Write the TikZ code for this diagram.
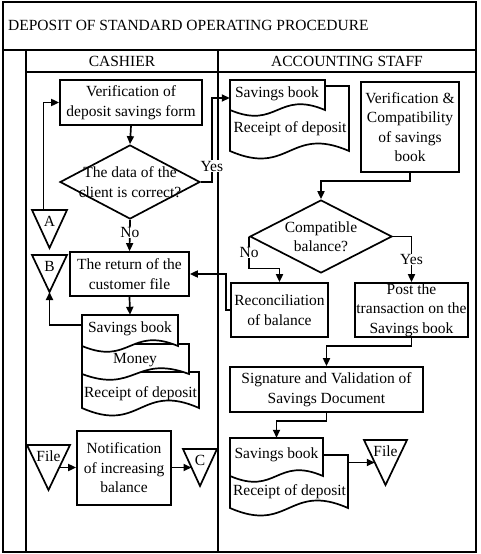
\documentclass[tikz,border=0pt]{standalone}
\usepackage{fontspec}
\setmainfont{Liberation Serif}
\usetikzlibrary{arrows.meta, shapes.geometric, positioning}

\newcommand{\fsz}{\fontsize{15.5}{19.5}\selectfont}
\newcommand{\docshape}[6]{%
  \draw[ln, fill=white] (#2,#3) -- (#4,#3) -- (#4,#5) .. controls ({(#2+#4)/2},{#5-#6}) and ({(#2+#4)/2},{#5+#6}) .. (#2,#5) -- cycle;
  \node[inner sep=0pt, minimum width={#4-#2}, minimum height={#5-#3}] (#1) at ({(#2+#4)/2},{(#3+#5)/2}) {};}
\newcommand{\flowtri}[6]{%
  \draw[ln, fill=white] (#2,#4) -- (#3,#4) -- ({(#2+#3)/2},#5) -- cycle;
  \coordinate (#1-top) at ({(#2+#3)/2},#4);
  \coordinate (#1-tip) at ({(#2+#3)/2},#5);
  \coordinate (#1-l) at ({(3*#2+#3)/4},{(#4+#5)/2});
  \coordinate (#1-r) at ({(#2+3*#3)/4},{(#4+#5)/2});
  \node[txt] (#1) at ({(#2+#3)/2},{#4+11}) {#6};}

\begin{document}
\begin{tikzpicture}[x=1pt, y=-1pt,
  ln/.style={line width=1.7pt},
  box/.style={ln, draw, fill=white, align=center, inner sep=0pt, font=\fsz},
  decision/.style={ln, draw, diamond, fill=white, inner sep=0pt},
  txt/.style={align=center, inner sep=0pt, font=\fsz},
  lbl/.style={fill=white, inner sep=0.5pt, font=\fsz},
  arr/.style={ln, -{Triangle[length=8pt,width=7pt]}}]
\useasboundingbox (0,0) rectangle (480,554);
\draw[ln] (3,2) rectangle (476,552);
\draw[ln] (3,50) -- (476,50);
\draw[ln] (26,50) -- (26,552);
\draw[ln] (218,50) -- (218,552);
\draw[ln] (26,72) -- (476,72);
\node[txt, anchor=base west] (title) at (8,30) {DEPOSIT OF STANDARD OPERATING PROCEDURE};
\node[txt] (cashier) at (122,61.5) {CASHIER};
\node[txt] (staff) at (347,61.5) {ACCOUNTING STAFF};

\node[box, minimum width=142, minimum height=45] (ver1) at (131,102.5) {Verification of\\deposit savings form};
\node[decision, minimum width=140, minimum height=74] (dec1) at (130,182) {};
\node[txt] (dec1-t) at (dec1) {The data of the\\client is correct?};
\node[box, minimum width=119, minimum height=44] (ret) at (129.5,274) {The return of the\\customer file};
\docshape{rcC}{82}{372}{199}{408}{26}
\docshape{mnC}{82}{344}{189}{374}{20}
\docshape{sbC}{82}{315}{178}{346}{20}
\node[txt] (sbC-t) at (130,329) {Savings book};
\node[txt] (mnC-t) at (135,360) {Money};
\node[txt] (rcC-t) at (140.5,394) {Receipt of deposit};
\flowtri{A}{32}{67}{210}{248}{A}
\flowtri{B}{32}{67}{255}{292}{B}
\flowtri{File1}{27}{70}{445}{490}{File}
\flowtri{C}{183}{217}{449}{486}{C}
\node[box, minimum width=94, minimum height=74] (notif) at (124,468) {Notification\\of increasing\\balance};

\docshape{rcA}{230}{86}{349}{151}{26}
\docshape{sbA}{230}{80}{325}{110}{20}
\node[txt] (sbA-t) at (277,94) {Savings book};
\node[txt] (rcA-t) at (290,129) {Receipt of deposit};
\node[box, minimum width=98, minimum height=90] (verC) at (410,127) {Verification \&\\Compatibility\\of savings\\book};
\node[decision, minimum width=142, minimum height=73] (dec2) at (321,236.5) {};
\node[txt] (dec2-t) at (dec2) {Compatible\\balance?};
\node[box, minimum width=97, minimum height=54] (recon) at (279.5,310) {Reconciliation\\of balance};
\node[box, minimum width=113, minimum height=54] (post) at (411.5,310) {Post the\\transaction on the\\Savings book};
\node[box, minimum width=193, minimum height=45] (sig) at (326.5,389.5) {Signature and Validation of\\Savings Document};
\docshape{rcD}{230}{455}{348}{508}{26}
\docshape{sbD}{230}{438}{323}{476}{20}
\node[txt] (sbD-t) at (276.5,455) {Savings book};
\node[txt] (rcD-t) at (289.5,492) {Receipt of deposit};
\flowtri{File2}{364}{407}{440}{485}{File}

\draw[arr] (ver1.south) -- (dec1.north);
\draw[arr] (dec1.east) -- ++(11,0) |- node[lbl, pos=0.095] (yes1) {Yes} ([yshift=-3pt]sbA.west);
\draw[arr] (dec1.south) -- node[lbl, pos=0.4] (no1) {No} (ret.north);
\draw[arr] (ret.south) -- (sbC.north);
\draw[arr] ([yshift=5.5pt]sbC.west) -| (B-tip);
\draw[arr] ([xshift=-6pt]A-top) |- (ver1.west);
\draw[arr] (recon.west) -- ++(-4,0) |- (ret.east);
\draw[arr] (File1-r) -- (File1-r -| notif.west);
\draw[arr] (notif.east |- C-l) -- (C-l);
\draw[arr] (verC.south) -- ++(0,8) -| (dec2.north);
\draw[arr] (dec2.west) -- node[lbl] (no2) {No} ++(0,32) -| (recon.north);
\draw[arr] (dec2.east) -| node[lbl, pos=0.75] (yes2) {Yes} (post.north);
\draw[arr] (post.south) -- ++(0,8) -| (sig.north);
\draw[arr] (sig.south) -- ++(0,8) -| (sbD.north);
\draw[arr] (rcD.east |- File2-l) -- (File2-l);
\end{tikzpicture}
\end{document}
